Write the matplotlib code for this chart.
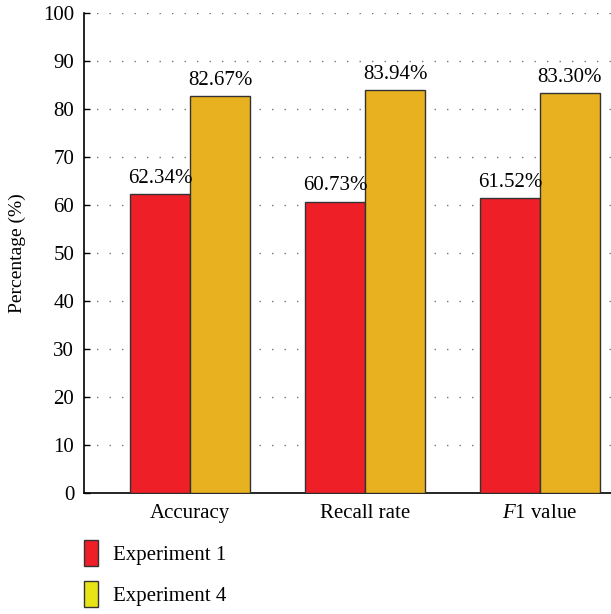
import numpy as np
import matplotlib.pyplot as plt
from matplotlib.patches import Patch

plt.rcParams['font.family'] = ['Liberation Serif', 'DejaVu Serif']
plt.rcParams['mathtext.fontset'] = 'custom'
plt.rcParams['mathtext.it'] = 'Liberation Serif:italic'
plt.rcParams['mathtext.rm'] = 'Liberation Serif'

# 실험 결과 (%)
metrics = ['Accuracy', 'Recall rate', r'$F$1 value']
exp1 = [62.34, 60.73, 61.52]
exp4 = [82.67, 83.94, 83.30]
series_names = ['Experiment 1', 'Experiment 4']

red = '#ee1f26'
gold = '#e8b11f'
legend_yellow = '#e8e517'
edge = '#333333'
fs = 15

fig = plt.figure(figsize=(6.11, 6.14), dpi=100)
ax = fig.add_axes([0.1375, 0.197, 0.8625, 0.7817])

x = np.arange(len(metrics))
w = 0.343

b1 = ax.bar(x - w / 2, exp1, w, color=red, edgecolor=edge, linewidth=1.0, zorder=3)
b2 = ax.bar(x + w / 2, exp4, w, color=gold, edgecolor=edge, linewidth=1.0, zorder=3)

# 막대 위 값 표시
for bars, vals in [(b1, exp1), (b2, exp4)]:
    for rect, v in zip(bars, vals):
        ax.text(rect.get_x() + rect.get_width() / 2, v + 1.3, f'{v:.2f}%',
                ha='center', va='bottom', fontsize=fs, zorder=4)

ax.set_xlim(-0.606, 2.406)
ax.set_ylim(0, 100)
ax.set_yticks(np.arange(0, 101, 10))
ax.set_xticks(x)
ax.set_xticklabels(metrics, fontsize=fs)
ax.tick_params(axis='y', labelsize=fs, direction='in', length=4, width=1.0, pad=7)
ax.tick_params(axis='x', length=0, pad=8)
ax.set_ylabel('Percentage (%)', fontsize=14, labelpad=12)

ax.yaxis.grid(True, color='#777777', linestyle=(0, (1, 8)), linewidth=1.0, zorder=0)
ax.set_axisbelow(True)

for s in ['top', 'right']:
    ax.spines[s].set_visible(False)
ax.spines['left'].set_linewidth(1.2)
ax.spines['bottom'].set_linewidth(1.2)

handles = [Patch(facecolor=red, edgecolor=edge, linewidth=1.0),
           Patch(facecolor=legend_yellow, edgecolor=edge, linewidth=1.0)]
fig.legend(handles, series_names, loc='upper left', bbox_to_anchor=(0.137, 0.12),
           frameon=False, fontsize=fs, handlelength=0.68, handleheight=1.55,
           handletextpad=0.75, labelspacing=0.7, borderpad=0, borderaxespad=0)

plt.savefig('out.png', dpi=100)
